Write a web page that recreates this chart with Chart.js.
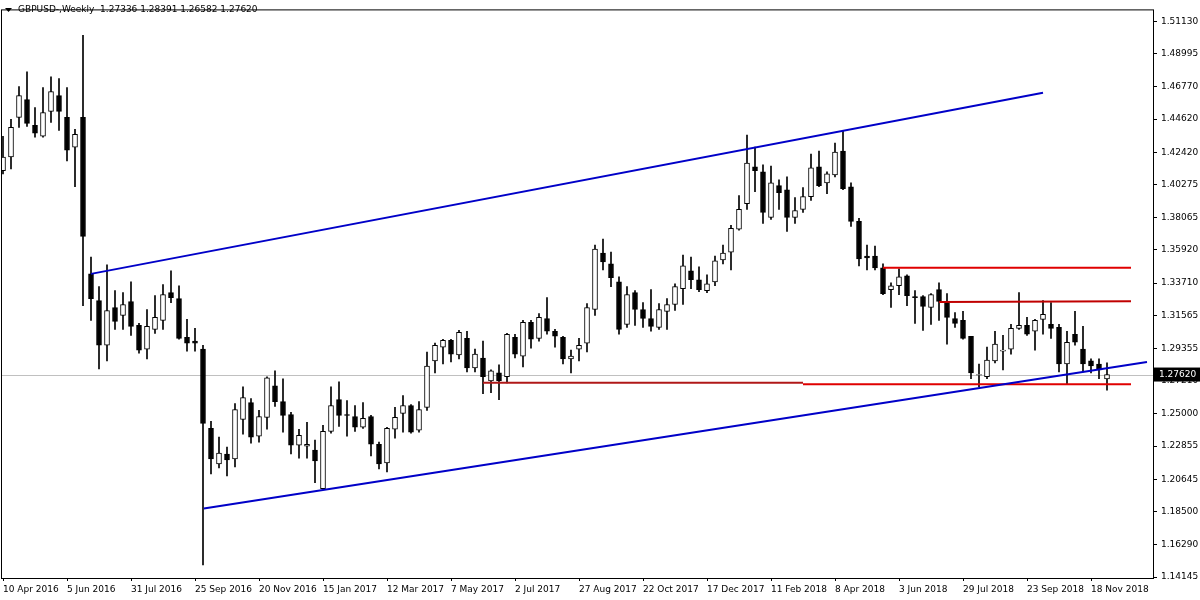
<!DOCTYPE html>
<html>
<head>
<meta charset="utf-8">
<script src="https://cdn.jsdelivr.net/npm/chart.js@4.4.1/dist/chart.umd.min.js"></script>
<style>
  body { margin: 0; background: #fff; }
  #wrap { width: 1200px; height: 600px; }
</style>
</head>
<body>
<div id="wrap"><canvas id="chart" width="1200" height="600"></canvas></div>
<script>
// weekly GBPUSD candles, week 0 = 10 Apr 2016
const opens = [1.4118,1.4210,1.4473,1.4592,1.4420,1.4348,1.4513,1.4618,1.4473,1.4275,
  1.4473,1.3432,1.3254,1.2957,1.3208,1.3155,1.3248,1.3089,1.2931,1.3063,
  1.3122,1.3307,1.3267,1.3010,1.2984,1.2931,1.2404,1.2167,1.2233,1.2200,
  1.2463,1.2575,1.2351,1.2477,1.2687,1.2582,1.2496,1.2292,1.2285,1.2259,
  1.2002,1.2384,1.2595,1.2496,1.2483,1.2411,1.2483,1.2298,1.2174,1.2398,
  1.2503,1.2556,1.2391,1.2543,1.2853,1.2944,1.2990,1.2892,1.3003,1.2806,
  1.2872,1.2720,1.2773,1.2747,1.3010,1.2885,1.3109,1.3003,1.3135,1.3050,
  1.3010,1.2866,1.2931,1.2971,1.3195,1.3571,1.3498,1.3379,1.3096,1.3307,
  1.3195,1.3135,1.3076,1.3182,1.3228,1.3333,1.3452,1.3393,1.3320,1.3379,
  1.3525,1.3577,1.3729,1.3900,1.4144,1.4111,1.3808,1.4019,1.3992,1.3808,
  1.3861,1.3946,1.4144,1.4038,1.4091,1.4249,1.4012,1.3781,1.3551,1.3551,
  1.3472,1.3327,1.3353,1.3419,1.3281,1.3281,1.3208,1.3327,1.3248,1.3135,
  1.3122,1.3017,1.2760,1.2747,1.2853,1.2918,1.2931,1.3069,1.3089,1.3050,
  1.3129,1.3096,1.3076,1.2832,1.3030,1.2931,1.2853,1.2832,1.27336];
const highs = [1.4348,1.4460,1.4678,1.4777,1.4539,1.4671,1.4744,1.4731,1.4671,1.4394,
  1.5020,1.3544,1.3347,1.3492,1.3320,1.3307,1.3379,1.3102,1.3195,1.3287,
  1.3360,1.3452,1.3353,1.3129,1.3069,1.2957,1.2450,1.2345,1.2279,1.2569,
  1.2681,1.2602,1.2523,1.2747,1.2786,1.2734,1.2510,1.2398,1.2444,1.2325,
  1.2424,1.2681,1.2714,1.2589,1.2556,1.2575,1.2490,1.2312,1.2411,1.2543,
  1.2622,1.2562,1.2582,1.2912,1.2971,1.2997,1.2997,1.3056,1.3050,1.2931,
  1.2984,1.2793,1.2826,1.3036,1.3030,1.3122,1.3122,1.3168,1.3274,1.3063,
  1.3017,1.2925,1.3003,1.3234,1.3623,1.3663,1.3577,1.3412,1.3347,1.3320,
  1.3241,1.3327,1.3234,1.3267,1.3366,1.3557,1.3544,1.3478,1.3426,1.3551,
  1.3623,1.3755,1.3953,1.4355,1.4275,1.4157,1.4150,1.4058,1.4078,1.3940,
  1.4006,1.4230,1.4249,1.4111,1.4302,1.4388,1.4038,1.3801,1.3623,1.3617,
  1.3498,1.3373,1.3465,1.3426,1.3320,1.3287,1.3300,1.3373,1.3300,1.3175,
  1.3182,1.3017,1.2832,1.2944,1.3050,1.3023,1.3096,1.3307,1.3142,1.3129,
  1.3254,1.3241,1.3096,1.3050,1.3182,1.3083,1.2866,1.2866,1.28391];
const lows = [1.4098,1.4131,1.4407,1.4414,1.4341,1.4341,1.4440,1.4387,1.4184,1.4012,
  1.3221,1.3122,1.2800,1.2853,1.3063,1.3063,1.3023,1.2905,1.2866,1.3036,
  1.3063,1.3241,1.2997,1.2918,1.2918,1.1495,1.2101,1.2141,1.2088,1.2147,
  1.2365,1.2305,1.2312,1.2398,1.2549,1.2378,1.2233,1.2206,1.2206,1.2042,
  1.2002,1.2371,1.2417,1.2351,1.2384,1.2404,1.2220,1.2134,1.2114,1.2338,
  1.2378,1.2371,1.2378,1.2523,1.2773,1.2832,1.2846,1.2866,1.2780,1.2780,
  1.2635,1.2641,1.2595,1.2707,1.2872,1.2813,1.2938,1.2984,1.3030,1.2944,
  1.2832,1.2773,1.2853,1.2912,1.3155,1.3459,1.3347,1.3030,1.3076,1.3089,
  1.3076,1.3050,1.3063,1.3063,1.3188,1.3228,1.3333,1.3314,1.3307,1.3353,
  1.3498,1.3459,1.3722,1.3861,1.3979,1.3768,1.3795,1.3861,1.3715,1.3768,
  1.3841,1.3920,1.4012,1.3966,1.4078,1.3992,1.3748,1.3485,1.3459,1.3459,
  1.3294,1.3208,1.3294,1.3221,1.3102,1.3056,1.3096,1.3122,1.2964,1.3076,
  1.2997,1.2734,1.2681,1.2734,1.2839,1.2793,1.2898,1.3063,1.3023,1.2925,
  1.3030,1.3003,1.2780,1.2701,1.2957,1.2780,1.2773,1.2734,1.26582];
const closes = [1.4210,1.4407,1.4618,1.4434,1.4368,1.4506,1.4645,1.4513,1.4255,1.4361,
  1.3682,1.3267,1.2957,1.3188,1.3115,1.3228,1.3083,1.2925,1.3083,1.3142,
  1.3294,1.3274,1.3003,1.2971,1.2971,1.2437,1.2200,1.2239,1.2193,1.2529,
  1.2608,1.2345,1.2483,1.2740,1.2582,1.2490,1.2292,1.2358,1.2298,1.2187,
  1.2384,1.2556,1.2490,1.2490,1.2411,1.2470,1.2298,1.2167,1.2404,1.2477,
  1.2556,1.2378,1.2529,1.2819,1.2957,1.2990,1.2898,1.3043,1.2806,1.2898,
  1.2747,1.2786,1.2720,1.3030,1.2898,1.3109,1.2997,1.3142,1.3050,1.3017,
  1.2866,1.2885,1.2957,1.3208,1.3597,1.3511,1.3406,1.3063,1.3294,1.3195,
  1.3135,1.3083,1.3195,1.3228,1.3347,1.3485,1.3393,1.3327,1.3366,1.3518,
  1.3571,1.3735,1.3861,1.4170,1.4118,1.3841,1.4038,1.3973,1.3808,1.3854,
  1.3946,1.4137,1.4019,1.4098,1.4243,1.3999,1.3781,1.3531,1.3538,1.3472,
  1.3300,1.3353,1.3412,1.3287,1.3274,1.3215,1.3294,1.3248,1.3142,1.3102,
  1.3003,1.2773,1.2760,1.2859,1.2964,1.2925,1.3069,1.3089,1.3030,1.3122,
  1.3162,1.3069,1.2832,1.2977,1.2977,1.2832,1.2819,1.2793,1.27620];

const dateLabels = ["10 Apr 2016","5 Jun 2016","31 Jul 2016","25 Sep 2016","20 Nov 2016",
  "15 Jan 2017","12 Mar 2017","7 May 2017","2 Jul 2017","27 Aug 2017","22 Oct 2017",
  "17 Dec 2017","11 Feb 2018","8 Apr 2018","3 Jun 2018","29 Jul 2018","23 Sep 2018","18 Nov 2018"];
const priceTicks = [1.51130,1.48995,1.46770,1.44620,1.42420,1.40275,1.38065,1.35920,1.33710,
  1.31565,1.29355,1.27210,1.25000,1.22855,1.20645,1.18500,1.16290,1.14145];

// trend lines drawn on the chart: [week start, price start, week end, price end]
const channelTop = [11, 1.3432, 130, 1.4638];
const channelBottom = [25.1, 1.1870, 143, 1.2846];
const redLines = [[110, 1.3472, 141, 1.3472], [117, 1.3244, 141, 1.3250],
  [60, 1.2707, 100, 1.2707], [100, 1.2698, 141, 1.2698]];
const lastPrice = 1.27620;
const header = "GBPUSD-,Weekly  1.27336 1.28391 1.26582 1.27620";

const bodies = opens.map((o, i) => {
  let lo = Math.min(o, closes[i]), hi = Math.max(o, closes[i]);
  if (hi - lo < 0.0003) { lo -= 0.00015; hi += 0.00015; }
  return { x: i, y: [lo, hi], up: closes[i] >= o };
});
const wicks = highs.map((h, i) => ({ x: i, y: [lows[i], h] }));

function seg(s) { return [{ x: s[0], y: s[1] }, { x: s[2], y: s[3] }]; }
function lineSet(s, color) {
  return { type: "line", data: seg(s), borderColor: color, borderWidth: 2,
    pointRadius: 0, order: -1, parsing: false };
}

const extras = {
  id: "extras",
  beforeDatasetsDraw(chart) {
    const ctx = chart.ctx, a = chart.chartArea, y = chart.scales.y.getPixelForValue(lastPrice);
    ctx.save();
    ctx.strokeStyle = "#c0c0c0";
    ctx.lineWidth = 1;
    ctx.beginPath();
    ctx.moveTo(a.left, Math.round(y) + 0.5);
    ctx.lineTo(a.right, Math.round(y) + 0.5);
    ctx.stroke();
    ctx.restore();
  },
  afterDraw(chart) {
    const ctx = chart.ctx, a = chart.chartArea, y = chart.scales.y.getPixelForValue(lastPrice);
    ctx.save();
    ctx.strokeStyle = "#000";
    ctx.lineWidth = 1;
    ctx.strokeRect(a.left + 0.5, a.top + 0.5, a.right - a.left, a.bottom - a.top);
    ctx.fillStyle = "#000";
    ctx.fillRect(a.right + 1, y - 7, 46, 14);
    ctx.fillStyle = "#fff";
    ctx.font = "9px 'DejaVu Sans'";
    ctx.textBaseline = "middle";
    ctx.fillText(lastPrice.toFixed(5), a.right + 6, y);
    ctx.fillStyle = "#000";
    ctx.beginPath();
    ctx.moveTo(5, 8); ctx.lineTo(12, 8); ctx.lineTo(8.5, 12); ctx.closePath();
    ctx.fill();
    ctx.font = "9px 'DejaVu Sans'";
    ctx.fillText(header, 18, 10);
    ctx.restore();
  }
};

new Chart(document.getElementById("chart"), {
  type: "bar",
  data: {
    datasets: [
      { data: bodies, grouped: false, barThickness: 5, order: 0, borderWidth: 1,
        borderColor: "#000", borderSkipped: false,
        backgroundColor: (c) => (c.raw && c.raw.up ? "#fff" : "#000") },
      { data: wicks, grouped: false, barThickness: 1, order: 1, borderWidth: 0,
        backgroundColor: "#000" },
      lineSet(channelTop, "#0000c8"),
      lineSet(channelBottom, "#0000c8"),
      lineSet(redLines[0], "#e00000"),
      lineSet(redLines[1], "#c00000"),
      lineSet(redLines[2], "#b01818"),
      lineSet(redLines[3], "#e00000"),
    ],
  },
  options: {
    responsive: false,
    animation: false,
    layout: { padding: { top: 4, left: 1, right: 0, bottom: 0 } },
    plugins: { legend: { display: false }, tooltip: { enabled: false } },
    scales: {
      x: {
        type: "linear", min: -0.25, max: 143.75, offset: false,
        grid: { drawOnChartArea: false, drawTicks: true, tickLength: 3, color: "#000", offset: false },
        border: { display: false },
        afterFit: (s) => { s.height = 22; },
        afterBuildTicks: (s) => { s.ticks = dateLabels.map((d, i) => ({ value: i * 8 })); },
        ticks: { autoSkip: false, maxRotation: 0, align: "start", color: "#000",
          font: { family: "DejaVu Sans", size: 9 }, padding: 3,
          callback: (v) => dateLabels[Math.round(v / 8)] },
      },
      y: {
        position: "right", min: 1.14079, max: 1.51921,
        grid: { drawOnChartArea: false, drawTicks: true, tickLength: 4, color: "#000" },
        border: { display: false },
        afterFit: (s) => { s.width = 47; },
        afterBuildTicks: (s) => { s.ticks = priceTicks.map((v) => ({ value: v })); },
        ticks: { color: "#000", font: { family: "DejaVu Sans", size: 9 }, padding: 4,
          callback: (v) => v.toFixed(5) },
      },
    },
  },
  plugins: [extras],
});
</script>
</body>
</html>
